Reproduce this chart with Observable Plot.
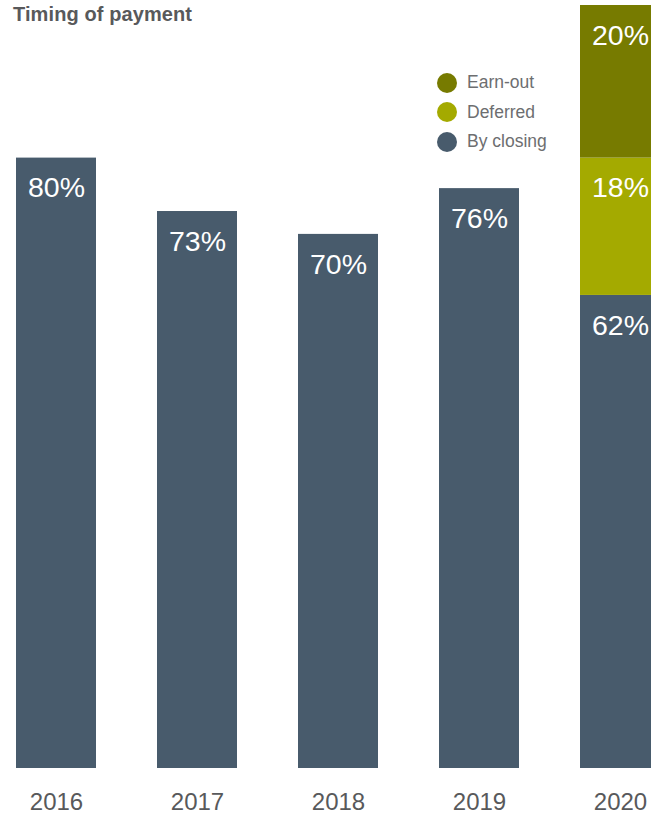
<!DOCTYPE html>
<html>
<head>
<meta charset="utf-8">
<script src="https://cdn.jsdelivr.net/npm/d3@7"></script>
<script src="https://cdn.jsdelivr.net/npm/@observablehq/plot@0.6"></script>
<style>
  html, body { margin: 0; padding: 0; background: #fff; overflow: hidden; width: 651px; height: 814px; }
  #wrap { position: relative; width: 651px; height: 814px; overflow: hidden; font-family: "Liberation Sans", Arial, sans-serif; }
  #title { position: absolute; left: 13px; top: 3px; font-size: 20px; font-weight: bold; color: #58595b; letter-spacing: 0.1px; }
  #legend { position: absolute; left: 437px; top: 68px; font-size: 17.5px; color: #6d6e70; }
  .li { display: flex; align-items: center; height: 29.5px; }
  .sw { width: 20px; height: 20px; border-radius: 50%; margin-right: 10px; }
  #chart { position: absolute; left: 0; top: 0; }
  #chart svg { max-width: none !important; }
</style>
</head>
<body>
<div id="wrap">
  <div id="chart"></div>
  <div id="title">Timing of payment</div>
  <div id="legend"></div>
</div>
<script>
const years = ["2016", "2017", "2018", "2019", "2020"];
const byClosing = [80, 73, 70, 76, 62];
const deferred = [0, 0, 0, 0, 18];
const earnOut = [0, 0, 0, 0, 20];
const seriesNames = ["By closing", "Deferred", "Earn-out"];
const seriesColors = ["#485b6c", "#a4aa00", "#777b00"];

const rows = [];
years.forEach((yr, i) => {
  [byClosing, deferred, earnOut].forEach((arr, k) => {
    if (arr[i] > 0) rows.push({year: yr, series: seriesNames[k], value: arr[i]});
  });
});

const plot = Plot.plot({
  width: 661,
  height: 814,
  marginLeft: 15,
  marginRight: 0,
  marginTop: 5,
  marginBottom: 46,
  style: {fontFamily: "Liberation Sans, Arial, sans-serif", background: "transparent", maxWidth: "none"},
  x: {domain: years, paddingInner: 0.435, paddingOuter: 0, label: null},
  y: {domain: [0, 100], axis: null},
  color: {domain: seriesNames, range: seriesColors},
  marks: [
    Plot.barY(rows, Plot.stackY({x: "year", y: "value", fill: "series", order: null})),
    Plot.text(rows, Plot.stackY2({x: "year", y: "value", order: null, text: d => d.value + "%", fill: "white", fontSize: 28.5, dy: 30, lineAnchor: "middle"})),
    Plot.axisX({tickSize: 0, tickPadding: 24, fontSize: 24, color: "#58595b", fill: "#58595b"})
  ]
});
plot.style.maxWidth = "none";
document.getElementById("chart").appendChild(plot);

const legend = document.getElementById("legend");
[2, 1, 0].forEach(k => {
  const li = document.createElement("div");
  li.className = "li";
  li.innerHTML = `<span class="sw" style="background:${seriesColors[k]}"></span><span>${seriesNames[k]}</span>`;
  legend.appendChild(li);
});
</script>
</body>
</html>
